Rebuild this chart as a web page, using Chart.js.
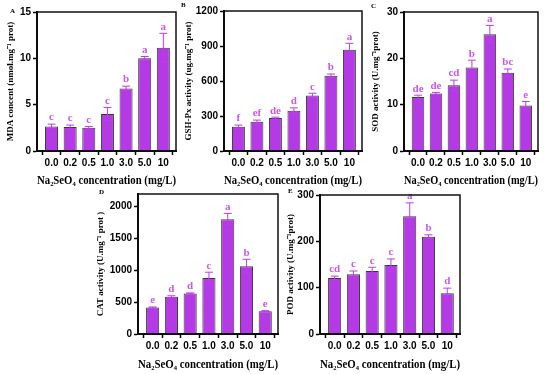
<!DOCTYPE html>
<html>
<head>
<meta charset="utf-8">
<script src="https://cdn.jsdelivr.net/npm/chart.js@4.4.0/dist/chart.umd.min.js"></script>
<style>
    html, body { margin: 0; padding: 0; background: #fff; }
    #wrap { position: relative; width: 550px; height: 374px; overflow: hidden; }
    canvas { position: absolute; }
</style>
</head>
<body>
<div id="wrap">
    <canvas id="mdaChart"></canvas>
    <canvas id="gshChart"></canvas>
    <canvas id="sodChart"></canvas>
    <canvas id="catChart"></canvas>
    <canvas id="podChart"></canvas>
</div>
<script>
//Labels to use
const concentrations = ['0.0', '0.2', '0.5', '1.0', '3.0', '5.0', '10'];

//MDA (panel A)
const mdaMean = [2.65, 2.6, 2.5, 4.0, 6.75, 10.0, 11.15];
const mdaErr = [0.25, 0.2, 0.15, 0.7, 0.25, 0.2, 1.55];
const mdaLetters = ['c', 'c', 'c', 'c', 'b', 'a', 'a'];
const mdaTicks = [0, 5, 10, 15];

//GSH-Px (panel B)
const gshMean = [207, 250, 282, 345, 475, 645, 868];
const gshErr = [15, 15, 8, 25, 20, 15, 55];
const gshLetters = ['f', 'ef', 'de', 'd', 'c', 'b', 'a'];
const gshTicks = [0, 300, 600, 900, 1200];

//SOD (panel C)
const sodMean = [11.65, 12.4, 14.2, 18.0, 25.2, 16.9, 9.8];
const sodErr = [0.4, 0.25, 1.1, 1.6, 1.9, 0.8, 0.9];
const sodLetters = ['de', 'de', 'cd', 'b', 'a', 'bc', 'e'];
const sodTicks = [0, 10, 20, 30];

//CAT (panel D)
const catMean = [417, 586, 638, 881, 1805, 1066, 359];
const catErr = [8, 15, 8, 90, 90, 108, 8];
const catLetters = ['e', 'd', 'd', 'c', 'a', 'b', 'e'];
const catTicks = [0, 500, 1000, 1500, 2000];

//POD (panel E)
const podMean = [121, 129, 136, 149, 254, 210, 88];
const podErr = [4, 7, 8, 13, 29, 4, 11];
const podLetters = ['cd', 'c', 'c', 'c', 'a', 'b', 'd'];
const podTicks = [0, 100, 200, 300];

const barFill = 'rgb(180, 58, 230)';
const errColor = 'rgb(190, 60, 235)';
const letterColor = 'rgb(205, 85, 240)';
const xTitle = 'Na\u2082SeO\u2084 concentration (mg/L)';

//error bars, letters, frame and panel tag
const panelExtras = {
    id: 'panelExtras',
    afterDatasetsDraw(chart, args, opts) {
        const ctx = chart.ctx;
        const xs = chart.scales.x;
        const ys = chart.scales.y;
        const a = chart.chartArea;
        ctx.save();
        opts.mean.forEach((v, i) => {
            const px = xs.getPixelForValue(i);
            const top = ys.getPixelForValue(v + opts.err[i]);
            const bot = ys.getPixelForValue(v - opts.err[i]);
            ctx.strokeStyle = errColor;
            ctx.lineWidth = 1;
            ctx.beginPath();
            ctx.moveTo(px, top); ctx.lineTo(px, bot);
            ctx.moveTo(px - 4, top); ctx.lineTo(px + 4, top);
            ctx.moveTo(px - 4, bot); ctx.lineTo(px + 4, bot);
            ctx.stroke();
            ctx.fillStyle = letterColor;
            ctx.font = 'bold 11px "Liberation Serif"';
            ctx.textAlign = 'center';
            ctx.textBaseline = 'bottom';
            ctx.fillText(opts.letters[i], px, top - 1);
        });
        ctx.strokeStyle = '#111';
        ctx.lineWidth = 1.5;
        ctx.strokeRect(a.left, a.top, a.right - a.left, a.bottom - a.top);
        ctx.fillStyle = '#000';
        ctx.font = 'bold 7px "Liberation Serif"';
        ctx.textAlign = 'left';
        ctx.textBaseline = 'middle';
        ctx.fillText(opts.tag, opts.tagX, opts.tagY);
        ctx.restore();
    }
};

//box = canvas rect on the page, area = wanted plot area on the page
function makePanel(id, box, area, mean, err, letters, ticks, yMax, yTitle, tag, tagPos) {
    const el = document.getElementById(id);
    el.width = box.w;
    el.height = box.h;
    el.style.left = box.x + 'px';
    el.style.top = box.y + 'px';

    const data = {
        datasets: [{
            data: mean.map((v, i) => ({x: i, y: v})),
            backgroundColor: barFill,
            borderColor: '#3a3a3a',
            borderWidth: 1,
            categoryPercentage: 1,
            barPercentage: 0.7
        }]
    };
    const config = {
        type: 'bar',
        data: data,
        options: {
            responsive: false,
            animation: false,
            layout: {
                padding: {top: area.t - box.y, right: box.x + box.w - area.r, left: 0, bottom: 0}
            },
            scales: {
                x: {
                    type: 'linear',
                    offset: false,
                    min: -0.78,
                    max: 6.68,
                    afterBuildTicks: (axis) => { axis.ticks = concentrations.map((c, i) => ({value: i})); },
                    afterFit: (axis) => {
                        axis.height = box.y + box.h - area.b;
                        axis.paddingLeft = 0; axis.paddingRight = 0;
                    },
                    ticks: {
                        autoSkip: false,
                        maxRotation: 0,
                        color: '#000',
                        padding: 2,
                        font: {family: '"Liberation Sans"', size: 10, weight: 'bold'},
                        callback: (v) => concentrations[v]
                    },
                    grid: {drawOnChartArea: false, tickLength: 4, tickColor: '#000', tickWidth: 1.5},
                    border: {color: '#000', width: 2},
                    title: {
                        display: true,
                        text: xTitle,
                        color: '#000',
                        padding: {top: 2, bottom: 2},
                        font: {family: '"Liberation Serif"', size: 11.5, weight: 'bold'}
                    }
                },
                y: {
                    min: 0,
                    max: yMax,
                    afterBuildTicks: (axis) => { axis.ticks = ticks.map((t) => ({value: t})); },
                    afterFit: (axis) => {
                        axis.width = area.l - box.x;
                        axis.paddingTop = 0; axis.paddingBottom = 0;
                    },
                    ticks: {
                        color: '#000',
                        padding: 2,
                        font: {family: '"Liberation Sans"', size: 10, weight: 'bold'},
                        callback: (v) => String(v)
                    },
                    grid: {drawOnChartArea: false, tickLength: 4, tickColor: '#000', tickWidth: 1.5},
                    border: {color: '#000', width: 2},
                    title: {
                        display: true,
                        text: yTitle,
                        color: '#000',
                        padding: {top: 5, bottom: 0},
                        font: {family: '"Liberation Serif"', size: 9, weight: 'bold'}
                    }
                }
            },
            plugins: {
                legend: {display: false},
                tooltip: {enabled: false},
                panelExtras: {mean: mean, err: err, letters: letters, tag: tag, tagX: tagPos[0] - box.x, tagY: tagPos[1] - box.y}
            }
        },
        plugins: [panelExtras]
    };
    return new Chart(el, config);
}

makePanel('mdaChart', {x: 0, y: 0, w: 185, h: 190}, {l: 37, t: 12, r: 176, b: 151},
    mdaMean, mdaErr, mdaLetters, mdaTicks, 15, 'MDA concent (nmol.mg\u207B\u00B9 prot)', 'A', [10, 11]);
makePanel('gshChart', {x: 178, y: 0, w: 187, h: 190}, {l: 224, t: 11, r: 362, b: 151},
    gshMean, gshErr, gshLetters, gshTicks, 1200, 'GSH-Px activity (ug.mg\u207B\u00B9 prot)', 'B', [181, 5]);
makePanel('sodChart', {x: 365, y: 0, w: 185, h: 190}, {l: 404, t: 12, r: 538, b: 151},
    sodMean, sodErr, sodLetters, sodTicks, 30, 'SOD activity (U.mg\u207B\u00B9prot)', 'C', [371, 6]);
makePanel('catChart', {x: 90, y: 185, w: 195, h: 189}, {l: 138, t: 194, r: 278, b: 334},
    catMean, catErr, catLetters, catTicks, 2200, 'CAT activity (U.mg\u207B\u00B9 prot )', 'D', [99, 192]);
makePanel('podChart', {x: 280, y: 185, w: 190, h: 189}, {l: 320, t: 195, r: 460, b: 334},
    podMean, podErr, podLetters, podTicks, 300, 'POD activity (U.mg\u207B\u00B9prot)', 'E', [288, 191]);
</script>
</body>
</html>
